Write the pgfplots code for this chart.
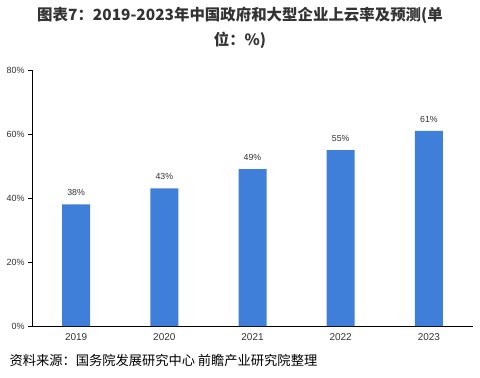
\documentclass[border=0pt]{standalone}
\usepackage{fontspec}
\setmainfont{Liberation Sans}
\newfontfamily\cjk{Noto Sans CJK SC}
\usepackage{pgfplots}
\pgfplotsset{compat=1.18}
\definecolor{barblue}{HTML}{3F7FD9}
\definecolor{txt}{HTML}{333333}
\begin{document}
\begin{tikzpicture}[x=1bp,y=1bp]
\path[use as bounding box] (0,0) rectangle (480,377);
\begin{axis}[
  at={(32bp,51bp)}, anchor=south west,
  width=441bp, height=256bp, scale only axis,
  xmin=-0.5, xmax=4.5, ymin=0, ymax=80,
  axis x line*=bottom, axis y line*=left,
  axis line style={black, line width=0.6pt},
  xtick={0,1,2,3,4},
  xticklabels={2019,2020,2021,2022,2023},
  extra x ticks={-0.5,0.5,1.5,2.5,3.5,4.5},
  extra x tick labels={},
  extra x tick style={major tick length=4bp, tick style={black, line width=0.6pt}, tick align=outside},
  x tick style={draw=none},
  ytick={0,20,40,60,80},
  yticklabels={0\%,20\%,40\%,60\%,80\%},
  y tick style={black, line width=0.6pt},
  tick align=outside, major tick length=4bp,
  x tick label style={font=\fontsize{10}{12}\selectfont, text=txt},
  y tick label style={font=\fontsize{9}{11}\selectfont, text=txt},
  /pgf/number format/assume math mode=true,
  ybar, bar width=28bp,
  nodes near coords={\pgfmathprintnumber{\pgfplotspointmeta}\%},
  nodes near coords style={font=\fontsize{8.8}{10}\selectfont, text=txt, yshift=5bp},
]
\addplot[fill=barblue, draw=none] coordinates {(0,38) (1,43) (2,49) (3,55) (4,61)};
\end{axis}
\node[font=\cjk\bfseries\fontsize{15.5}{25}\selectfont, text=txt, align=center] at (240,349) {图表7：2019-2023年中国政府和大型企业上云率及预测(单\\位：\%)};
\node[font=\cjk\fontsize{13.3}{15}\selectfont, text=black, anchor=west] at (6,17) {资料来源：国务院发展研究中心\ 前瞻产业研究院整理};
\end{tikzpicture}
\end{document}
